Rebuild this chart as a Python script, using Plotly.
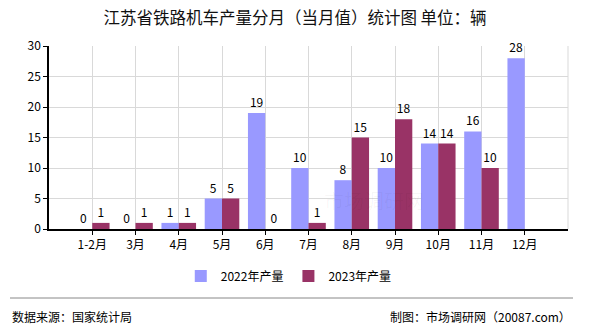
import plotly.graph_objects as go

# Monthly output of railway locomotives in Jiangsu (units: vehicles)
months = ["1-2月", "3月", "4月", "5月", "6月", "7月", "8月", "9月", "10月", "11月", "12月"]
output_2022 = [0, 0, 1, 5, 19, 10, 8, 10, 14, 16, 28]
output_2023 = [1, 1, 1, 5, 0, 1, 15, 18, 14, 10, None]
y_ticks = [0, 5, 10, 15, 20, 25, 30]

FONT = "Noto Sans CJK SC"
positions = list(range(len(months)))

fig = go.Figure()
fig.add_trace(go.Bar(
    x=positions, y=output_2022, name="2022年产量",
    marker=dict(color="#9999FF", line=dict(width=0)),
    texttemplate="%{y}", textposition="outside", cliponaxis=False,
    textfont=dict(color="#000000", size=12, family=FONT),
))
fig.add_trace(go.Bar(
    x=positions, y=output_2023, name="2023年产量",
    marker=dict(color="#993366", line=dict(width=0)),
    texttemplate="%{y}", textposition="outside", cliponaxis=False,
    textfont=dict(color="#000000", size=12, family=FONT),
))

fig.update_layout(
    width=590, height=330,
    margin=dict(l=49, r=22, t=46, b=101),
    paper_bgcolor="white", plot_bgcolor="white",
    barmode="group", bargap=0.2, bargroupgap=0,
    font=dict(family=FONT, size=12, color="#000000"),
    showlegend=True,
    legend=dict(orientation="h", x=0.462, xanchor="center", y=-0.178, yanchor="top",
                font=dict(size=12, family=FONT), itemwidth=30,
                traceorder="normal", tracegroupgap=0),
    title=dict(text="江苏省铁路机车产量分月（当月值）统计图 单位：辆",
               x=0.5, xanchor="center", y=0.945, yanchor="middle",
               font=dict(size=16.5, family=FONT, color="#111111")),
)

fig.update_xaxes(
    range=[-1, 11], tickmode="array", tickvals=positions, ticktext=months,
    showgrid=True, gridcolor="#D9D9D9", gridwidth=1,
    showline=True, linecolor="#000000", linewidth=1.5,
    ticks="outside", ticklen=4, tickcolor="#000000",
    tickfont=dict(size=12, family=FONT), zeroline=False,
)
fig.update_yaxes(
    range=[0, 30], tickmode="array", tickvals=y_ticks,
    showgrid=True, gridcolor="#D9D9D9", gridwidth=1,
    showline=True, linecolor="#000000", linewidth=1.5,
    ticks="outside", ticklen=4, tickcolor="#000000",
    tickfont=dict(size=12, family=FONT), zeroline=False,
)

# right border of the plotting area
fig.add_shape(type="line", xref="paper", yref="paper", x0=1, x1=1, y0=0, y1=1,
              line=dict(color="#D9D9D9", width=1), layer="below")

# footer separator and source notes
fig.add_shape(type="line", xref="paper", yref="paper",
              x0=-39 / 519, x1=(573 - 49) / 519, y0=-69 / 183, y1=-69 / 183,
              line=dict(color="#888888", width=1))
fig.add_annotation(text="数据来源：国家统计局", xref="paper", yref="paper",
                   x=-39 / 519, y=-87 / 183, xanchor="left", yanchor="middle",
                   showarrow=False, font=dict(size=12, family=FONT, color="#000000"))
fig.add_annotation(text="制图：市场调研网（20087.com）", xref="paper", yref="paper",
                   x=(573 - 49) / 519, y=-87 / 183, xanchor="right", yanchor="middle",
                   showarrow=False, font=dict(size=12, family=FONT, color="#000000"))

# faint site watermark
fig.add_annotation(text="市场调研网", xref="paper", yref="paper",
                   x=(374 - 49) / 519, y=(229 - 200) / 183, xanchor="center", yanchor="middle",
                   showarrow=False, font=dict(size=20, family=FONT, color="rgba(0,0,0,0.04)"))

fig.write_html("out.html")
